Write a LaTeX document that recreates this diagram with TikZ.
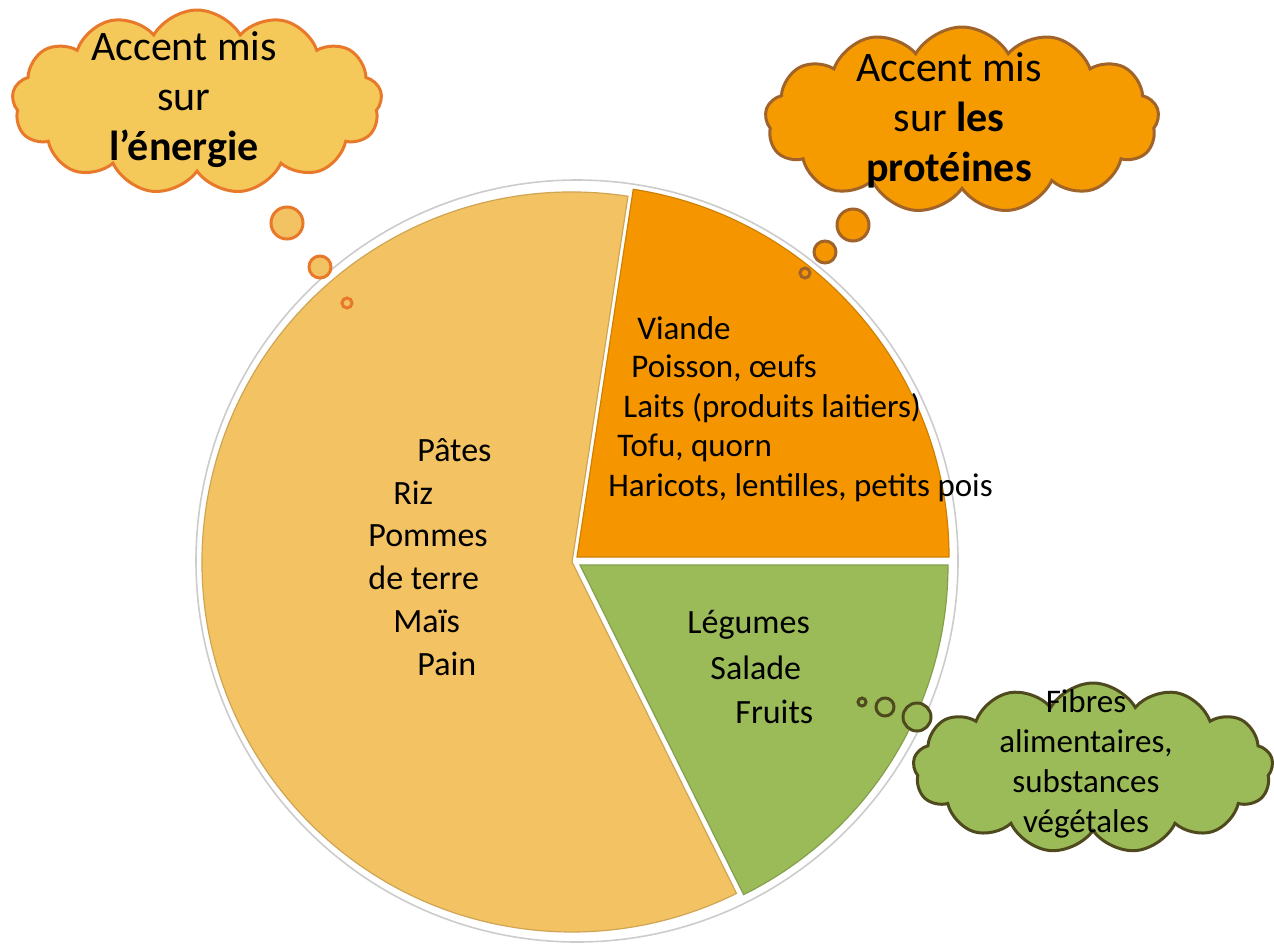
\documentclass[tikz,border=0pt]{standalone}
\usepackage{fontspec}
\setmainfont{Carlito}
\usetikzlibrary{shapes.symbols}

\definecolor{energy}{HTML}{F3C263}
\definecolor{eline}{HTML}{E8792B}
\definecolor{protein}{HTML}{F59600}
\definecolor{pline}{HTML}{A0642B}
\definecolor{fibre}{HTML}{9BBB59}
\definecolor{fline}{HTML}{4F4A1E}

\begin{document}
\begin{tikzpicture}[x=0.5pt, y=-0.5pt,
    slice/.style={line width=0.6pt},
    bubble/.style={cloud, cloud puffs=13, cloud puff arc=120, aspect=2, line width=1.5pt, inner sep=0pt},
    puff/.style={circle, line width=1.5pt, inner sep=0pt},
    item/.style={anchor=west, inner sep=0pt, font=\fontsize{17}{20}\selectfont},
    thought/.style={align=center, inner sep=0pt, font=\fontsize{21}{25}\selectfont}
  ]
  \useasboundingbox (0,0) rectangle (1274,943);

  % pie
  \coordinate (c) at (577,561);
  \coordinate (ce) at (572,562);
  \coordinate (cp) at (577,557);
  \coordinate (cf) at (580,565);
  \draw[gray!40, fill=white, line width=0.8pt] (c) circle[radius=381];
  \draw[slice, fill=energy, draw=energy!85!black] (ce) -- ++(-81.3:370)
    arc[start angle=-81.3, end angle=-296.4, radius=370] -- cycle;
  \draw[slice, fill=protein, draw=protein!85!black] (cp) -- ++(0:372)
    arc[start angle=0, end angle=-81.3, radius=372] -- cycle;
  \draw[slice, fill=fibre, draw=fibre!85!black] (cf) -- ++(0:368)
    arc[start angle=0, end angle=63.6, radius=368] -- cycle;

  % thought bubbles
  \node[puff, draw=eline, fill=energy, minimum size=16pt] (e1) at (287,223) {};
  \node[puff, draw=eline, fill=energy, minimum size=11pt] (e2) at (320,267) {};
  \node[puff, draw=eline, fill=energy, minimum size=5pt] (e3) at (347,303) {};
  \node[puff, draw=pline, fill=protein, minimum size=16pt] (p1) at (853,225) {};
  \node[puff, draw=pline, fill=protein, minimum size=11pt] (p2) at (825,252) {};
  \node[puff, draw=pline, fill=protein, minimum size=5pt] (p3) at (805,273) {};
  \node[puff, draw=fline, fill=fibre, minimum size=14pt] (f1) at (917,717) {};
  \node[puff, draw=fline, fill=fibre, minimum size=9pt] (f2) at (885,707) {};
  \node[puff, draw=fline, fill=fibre, minimum size=4pt] (f3) at (862,702) {};

  \node[bubble, draw=eline, fill=energy!90!yellow, minimum width=185pt, minimum height=92pt] (ecloud) at (197,102) {};
  \node[bubble, draw=pline, fill=protein!95!yellow, minimum width=197pt, minimum height=93pt] (pcloud) at (962,120) {};
  \node[bubble, draw=fline, fill=fibre, minimum width=180pt, minimum height=85pt] (fcloud) at (1093,768) {};

  \node[thought] (etext) at (184,100) {Accent mis\\sur\\\textbf{l’énergie}};
  \node[thought] (ptext) at (949,120) {Accent mis\\sur \textbf{les}\\\textbf{protéines}};
  \node[thought, font=\fontsize{16.5}{20}\selectfont] (ftext) at (1086,764)
    {Fibres\\alimentaires,\\substances\\végétales};

  % slice contents
  \foreach \x/\y/\t [count=\i] in {417/450/Pâtes, 393/493/Riz, 368/536/Pommes,
      368/578/de terre, 393/621/Maïs, 417/664/Pain}
    \node[item] (e\i) at (\x,\y) {\t};
  \foreach \x/\y/\t [count=\i] in {637/328/Viande, 631/368/{Poisson, œufs},
      623/408/Laits (produits laitiers), 617/448/{Tofu, quorn},
      608/488/{Haricots, lentilles, petits pois}}
    \node[item, font=\fontsize{16.5}{20}\selectfont] (p\i) at (\x,\y) {\t};
  \foreach \x/\y/\t [count=\i] in {687/625/Légumes, 710/668/Salade, 735/712/Fruits}
    \node[item] (f\i) at (\x,\y) {\t};
\end{tikzpicture}
\end{document}
